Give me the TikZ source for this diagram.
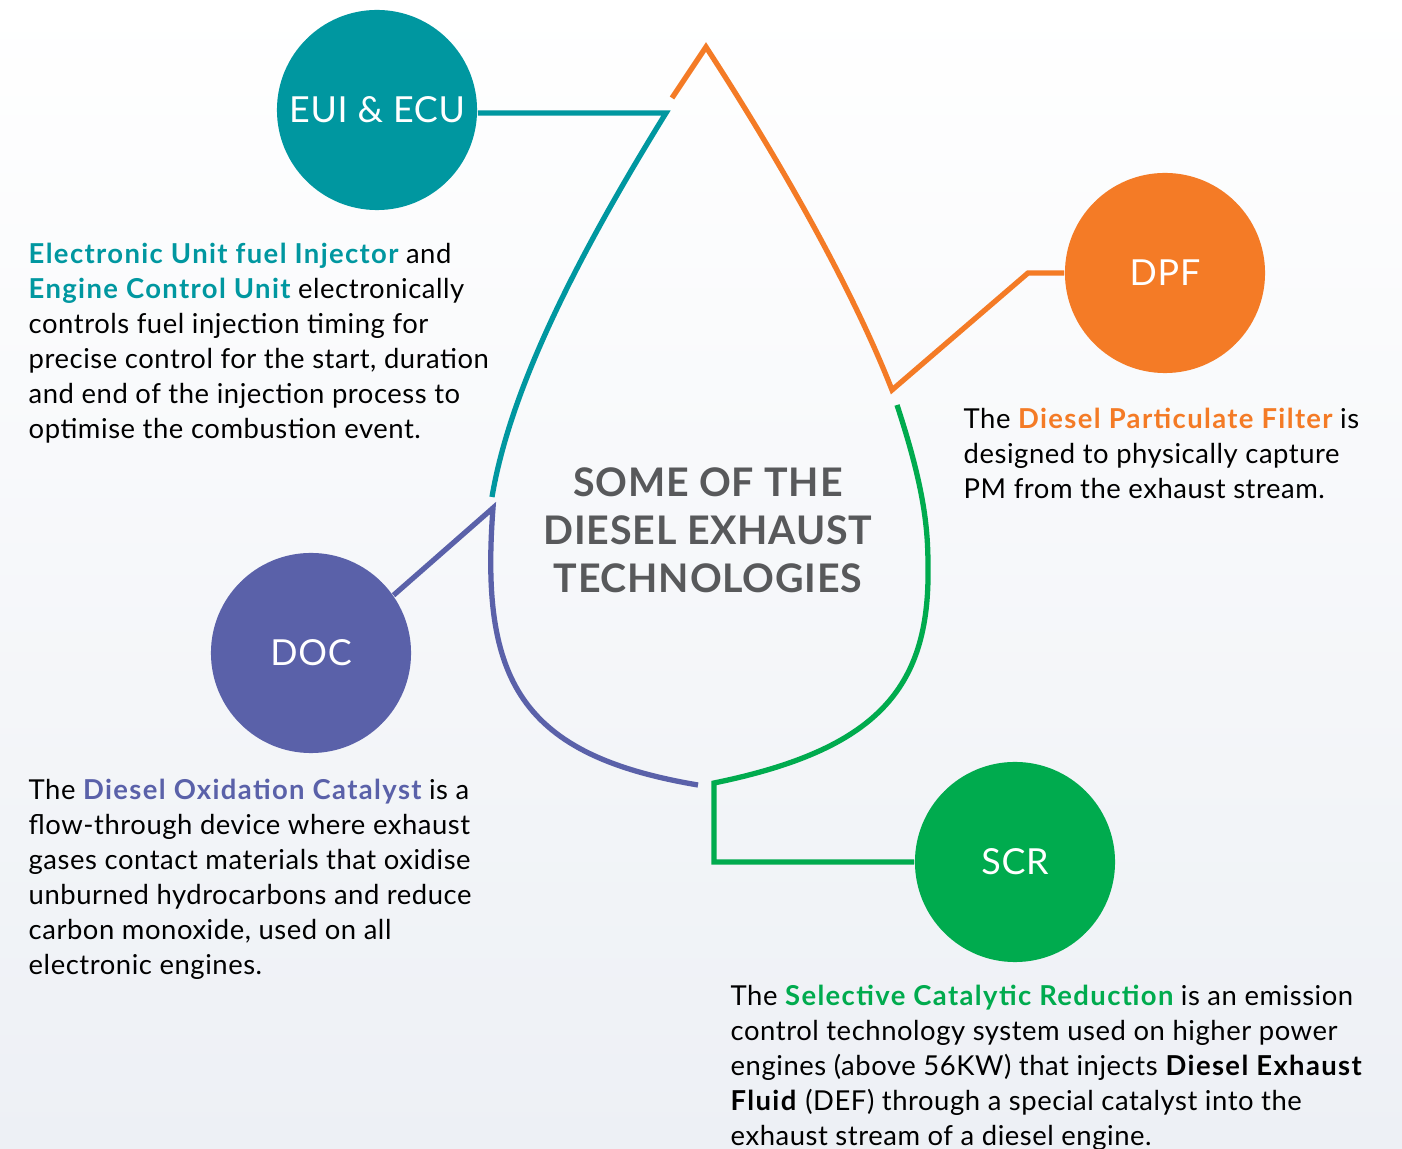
\documentclass[tikz,border=0pt]{standalone}
\usepackage{fontspec}
\setmainfont{Lato}
\newfontfamily\bodyfont{Lato}[LetterSpace=2, BoldFeatures={LetterSpace=5}]
\newfontfamily\labelfont{Lato}[LetterSpace=2]
\usetikzlibrary{positioning}
\definecolor{euiteal}{HTML}{0097A0}
\definecolor{dpforange}{HTML}{F47B26}
\definecolor{docpurple}{HTML}{5A61A9}
\definecolor{scrgreen}{HTML}{00AB4E}
\definecolor{titlegrey}{HTML}{58595B}
\definecolor{bglow}{HTML}{EDF0F5}

\begin{document}
\begin{tikzpicture}[x=0.01cm, y=0.01cm]
\tikzstyle{tech}=[circle, minimum size=2cm, inner sep=0pt, text=white, font=\labelfont\fontsize{10.2}{12}\selectfont]
\tikzstyle{info}=[anchor=north west, inner sep=0pt, align=left, text=black, font=\bodyfont\fontsize{7.8}{9.96}\selectfont]
\tikzstyle{link}=[line width=1.5pt, line join=miter]
\shade [top color=white, middle color=white, bottom color=bglow] (0,0) rectangle (1402,-1149);
\useasboundingbox (0,0) rectangle (1402,-1149);
\node [tech, fill=euiteal] (eui) at (377,-110) {EUI \& ECU};
\node [tech, fill=dpforange] (dpf) at (1165,-273) {DPF};
\node [tech, fill=docpurple] (doc) at (311,-653) {DOC};
\node [tech, fill=scrgreen] (scr) at (1015,-862) {SCR};
\node [align=center, text=titlegrey, font=\labelfont\fontsize{11.2}{13.66}\selectfont\bfseries] (title) at (708,-530) {SOME OF THE\\DIESEL EXHAUST\\TECHNOLOGIES};
\coordinate (tip) at (706,-47);
\coordinate (orangestart) at (672,-98);
\coordinate (orangeend) at (892,-390);
\coordinate (dpfbend) at (1028,-273);
\coordinate (tealtop) at (666,-113);
\coordinate (tealend) at (492,-497);
\coordinate (purpletop) at (493,-508);
\coordinate (purpleend) at (698,-785);
\coordinate (greentop) at (897,-405);
\coordinate (widest) at (928,-567);
\coordinate (greenend) at (714,-783);
\coordinate (scrbend) at (714,-862);
\draw [link, dpforange] (orangestart) -- (tip) .. controls (760,-130) and (845,-270) .. (orangeend) -- (dpfbend) -- (dpf.west);
\draw [link, euiteal] (eui.east |- tealtop) -- (tealtop) .. controls (575,-260) and (510,-390) .. (tealend);
\draw [link, docpurple] (doc.35) -- (purpletop) .. controls (480,-680) and (520,-755) .. (purpleend);
\draw [link, scrgreen] (greentop) .. controls (925,-490) and (928,-530) .. (widest) .. controls (930,-690) and (875,-750) .. (greenend) -- (scrbend) -- (scr.west);
\node [info] (euitext) at (28,-242) {\textcolor{euiteal}{\bfseries Electronic Unit fuel Injector} and\\\textcolor{euiteal}{\bfseries Engine Control Unit} electronically\\controls fuel injection timing for\\precise control for the start, duration\\and end of the injection process to\\optimise the combustion event.};
\node [info] (dpftext) at (963,-407) {The \textcolor{dpforange}{\bfseries Diesel Particulate Filter} is\\designed to physically capture\\PM from the exhaust stream.};
\node [info] (doctext) at (28,-778) {The \textcolor{docpurple}{\bfseries Diesel Oxidation Catalyst} is a\\flow-through device where exhaust\\gases contact materials that oxidise\\unburned hydrocarbons and reduce\\carbon monoxide, used on all\\electronic engines.};
\node [info] (scrtext) at (730,-984) {The \textcolor{scrgreen}{\bfseries Selective Catalytic Reduction} is an emission\\control technology system used on higher power\\engines (above 56KW) that injects \textbf{Diesel Exhaust}\\\textbf{Fluid} (DEF) through a special catalyst into the\\exhaust stream of a diesel engine.};
\end{tikzpicture}
\end{document}
